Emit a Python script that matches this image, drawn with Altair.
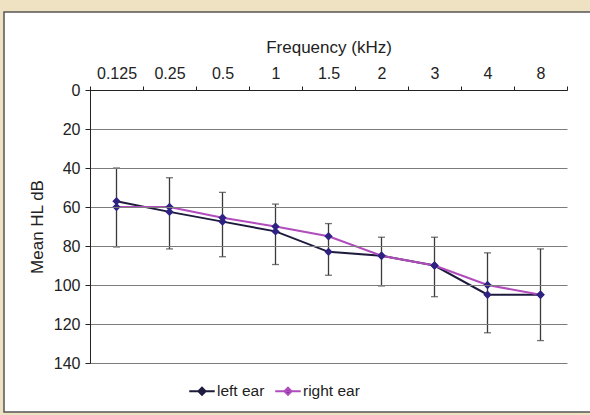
import altair as alt
import pandas as pd

freqs = ["0.125", "0.25", "0.5", "1", "1.5", "2", "3", "4", "8"]
left_ear = [57, 62.5, 67.5, 72.5, 83, 85, 90, 105, 105]
right_ear = [60, 60, 65.5, 70, 75, 85, 90, 100, 105]
err_low = [40, 45, 52.5, 58.5, 68.5, 75.5, 75.5, 83.5, 81.5]
err_high = [80.5, 81.5, 85.5, 89.5, 95, 100.5, 106, 124.5, 128.5]
y_ticks = [0, 20, 40, 60, 80, 100, 120, 140]
series = ["left ear", "right ear"]
line_colors = ["#1c1b3c", "#b04cbc"]
marker_color = "#2e2283"

rows = []
for s, vals in zip(series, [left_ear, right_ear]):
    for f, v in zip(freqs, vals):
        rows.append({"freq": f, "hl": v, "series": s})
df = pd.DataFrame(rows)
err = pd.DataFrame({"freq": freqs, "lo": err_low, "hi": err_high})

FONT = "Liberation Sans"

xaxis = alt.Axis(orient="top", title="Frequency (kHz)", labelAngle=0,
                 tickBand="extent", tickSize=4, labelPadding=5,
                 titlePadding=9, titleFontSize=17, titleFontWeight="normal",
                 labelFontSize=16, labelOverlap=False, domainColor="#222", tickColor="#222",
                 labelColor="#222", titleColor="#222", grid=False, zindex=1)
xscale = alt.Scale(type="band", domain=freqs, paddingInner=0, paddingOuter=0)
yscale = alt.Scale(domain=[0, 140], reverse=True, nice=False, zero=True)
yaxis = alt.Axis(title="Mean HL dB", values=y_ticks, tickCount=8, tickSize=5, labelOverlap=False,
                 labelPadding=5, titlePadding=7, titleFontSize=17, titleFontWeight="normal",
                 labelFontSize=16, grid=True, gridColor="#7c7c7c", gridWidth=1.2,
                 domainColor="#222", tickColor="#222", labelColor="#222", titleColor="#222",
                 zindex=1)


def X():
    return alt.X("freq:N", sort=freqs, bandPosition=0.5, scale=xscale, axis=xaxis)


def Y(field):
    return alt.Y(field, scale=yscale, axis=yaxis)


frame = alt.Chart(pd.DataFrame({"a": [0]})).mark_rect(
    fill="white", stroke="#555", strokeWidth=1.5
).encode(x=alt.value(-86), x2=alt.value(520), y=alt.value(-78), y2=alt.value(322))

bars = alt.Chart(err).mark_rule(color="#3a3a3a", strokeWidth=1.3).encode(
    x=X(), y=Y("lo:Q"), y2="hi:Q")
caps_lo = alt.Chart(err).mark_tick(color="#3a3a3a", thickness=1.3, size=7, orient="horizontal").encode(
    x=X(), y=Y("lo:Q"))
caps_hi = alt.Chart(err).mark_tick(color="#3a3a3a", thickness=1.3, size=7, orient="horizontal").encode(
    x=X(), y=Y("hi:Q"))

lines = alt.Chart(df).mark_line(strokeWidth=2).encode(
    x=X(), y=Y("hl:Q"),
    color=alt.Color("series:N", scale=alt.Scale(domain=series, range=line_colors),
                    legend=alt.Legend(title=None, orient="none", legendX=98, legendY=287,
                                      direction="horizontal", labelFontSize=15.5,
                                      labelColor="#222", columnPadding=6, labelOffset=1,
                                      symbolType="M-1,0 L1,0 M0,-0.28 L0.28,0 L0,0.28 L-0.28,0 Z",
                                      symbolSize=650, symbolStrokeWidth=2,
                                      symbolFillColor=marker_color)),
)
points = alt.Chart(df).mark_point(shape="diamond", filled=True, size=70, color=marker_color, opacity=1).encode(
    x=X(), y=Y("hl:Q"), detail="series:N")

chart = alt.layer(frame, bars, caps_lo, caps_hi, lines, points).properties(
    width=477, height=273,
    autosize=alt.AutoSizeParams(type="none"),
    padding={"left": 90, "top": 90, "right": 23, "bottom": 52},
    background="#efe2c2",
).configure_view(stroke=None).configure(font=FONT)

chart.save("out.html", embed_options={"renderer": "svg", "actions": False})
